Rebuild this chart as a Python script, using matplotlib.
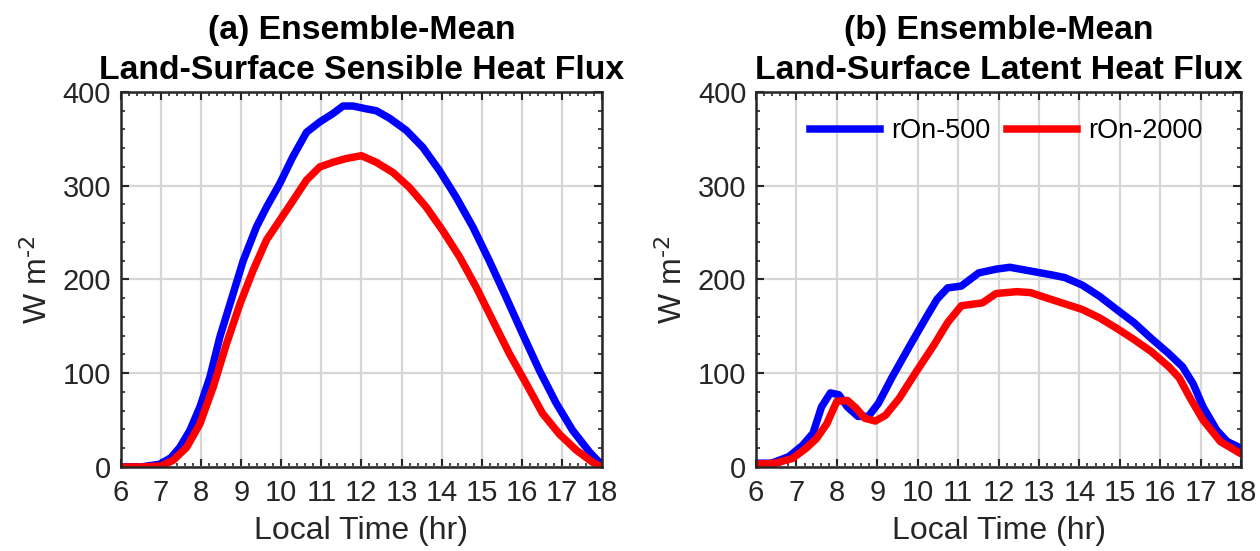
import numpy as np
import matplotlib
matplotlib.use("Agg")
import matplotlib.pyplot as plt
from matplotlib.ticker import MultipleLocator

plt.rcParams['font.family'] = ['Liberation Sans', 'DejaVu Sans']
plt.rcParams['mathtext.default'] = 'regular'

# sensible heat flux (W m-2) vs local time (hr)
sh_t_500 = [6.0, 6.5, 6.97, 7.25, 7.47, 7.72, 7.97, 8.22, 8.47, 8.8, 9.05, 9.38, 9.63,
            9.96, 10.29, 10.63, 10.96, 11.29, 11.54, 11.79, 12.12, 12.37, 12.7, 13.12,
            13.53, 13.95, 14.36, 14.78, 15.19, 15.61, 16.02, 16.44, 16.86, 17.27,
            17.69, 18.0]
sh_500 = [0, 0, 3, 10, 21, 39, 64, 96, 139, 185, 220, 256, 277, 302, 331, 357, 368,
          377, 385, 385, 382, 380, 372, 359, 341, 316, 288, 256, 220, 181, 142, 103,
          68, 39, 16, 2]
sh_t_2000 = [6.0, 6.5, 7.0, 7.3, 7.64, 7.97, 8.3, 8.63, 8.97, 9.3, 9.63, 9.96, 10.29,
             10.63, 10.96, 11.29, 11.62, 12.0, 12.37, 12.79, 13.2, 13.62, 14.03,
             14.45, 14.86, 15.28, 15.69, 16.11, 16.52, 16.94, 17.36, 17.77, 18.0]
sh_2000 = [0, 0, 1, 7, 21, 46, 85, 131, 174, 210, 242, 263, 284, 306, 320, 325, 329,
           332, 325, 314, 298, 277, 252, 224, 192, 156, 121, 89, 57, 35, 18, 5, 0]

# latent heat flux (W m-2) vs local time (hr)
lh_t_500 = [6.0, 6.38, 6.81, 7.15, 7.41, 7.62, 7.84, 8.05, 8.26, 8.52, 8.78, 9.03,
            9.37, 9.8, 10.23, 10.48, 10.74, 11.08, 11.51, 11.94, 12.28, 12.79, 13.3,
            13.64, 14.07, 14.5, 14.92, 15.35, 15.78, 16.21, 16.55, 16.81, 17.06,
            17.4, 17.66, 18.0]
lh_500 = [4, 4, 11, 23, 36, 64, 79, 77, 64, 54, 54, 68, 96, 129, 161, 179, 191, 193,
          207, 211, 213, 209, 205, 202, 194, 182, 168, 154, 137, 121, 107, 89, 64,
          39, 27, 20]
lh_t_2000 = [6.0, 6.47, 6.9, 7.24, 7.49, 7.75, 8.0, 8.26, 8.47, 8.69, 8.95, 9.2, 9.54,
             9.97, 10.4, 10.74, 11.08, 11.6, 11.94, 12.45, 12.79, 13.21, 13.64, 14.07,
             14.5, 14.92, 15.35, 15.78, 16.21, 16.47, 16.72, 17.06, 17.49, 18.0]
lh_2000 = [3, 4, 9, 20, 30, 46, 70, 71, 63, 52, 49, 55, 73, 102, 130, 154, 172, 175,
           185, 187, 186, 180, 174, 168, 159, 148, 136, 123, 107, 95, 75, 50, 27, 14]

labels = ['rOn-500', 'rOn-2000']
titles = ['(a) Ensemble-Mean\nLand-Surface Sensible Heat Flux',
          '(b) Ensemble-Mean\nLand-Surface Latent Heat Flux']

fig = plt.figure(figsize=(12.6, 5.51), dpi=100)
ax1 = fig.add_axes([0.096, 0.1525, 0.3817, 0.6806])
ax2 = fig.add_axes([0.6, 0.1525, 0.385, 0.6806])

panels = [(ax1, sh_t_500, sh_500, sh_t_2000, sh_2000),
          (ax2, lh_t_500, lh_500, lh_t_2000, lh_2000)]

for i, (ax, t1, y1, t2, y2) in enumerate(panels):
    ax.plot(t1, y1, color='#0000ff', lw=5.4, label=labels[0])
    ax.plot(t2, y2, color='#ff0000', lw=5.4, label=labels[1])
    ax.set_xlim(6, 18)
    ax.set_ylim(0, 400)
    ax.xaxis.set_major_locator(MultipleLocator(1))
    ax.xaxis.set_minor_locator(MultipleLocator(0.2))
    ax.yaxis.set_major_locator(MultipleLocator(100))
    ax.yaxis.set_minor_locator(MultipleLocator(20))
    ax.grid(True, which='major', color='#d6d6d6', lw=1.6)
    ax.set_axisbelow(True)
    ax.tick_params(which='both', direction='in', top=True, right=True,
                   colors='#262626', labelsize=21)
    ax.tick_params(which='major', length=6, width=1.5)
    ax.tick_params(axis='x', which='major', pad=9)
    ax.tick_params(axis='y', which='major', pad=7)
    ax.tick_params(which='minor', length=3, width=1.2)
    for sp in ax.spines.values():
        sp.set_color('#262626')
        sp.set_linewidth(1.8)
    ax.set_xlabel('Local Time (hr)', fontsize=23, color='#262626', labelpad=6)
    ax.set_ylabel(r'W m$^{\text{-2}}$', fontsize=23, color='#262626', labelpad=6)
    ax.set_title(titles[i], fontsize=24.3, fontweight='bold', pad=9, linespacing=1.38)

ax2.legend(loc='upper right', ncol=2, frameon=False, fontsize=19.5,
           handlelength=2.6, columnspacing=0.6, handletextpad=0.4,
           bbox_to_anchor=(0.97, 0.995))

fig.savefig('out.png', dpi=100)
